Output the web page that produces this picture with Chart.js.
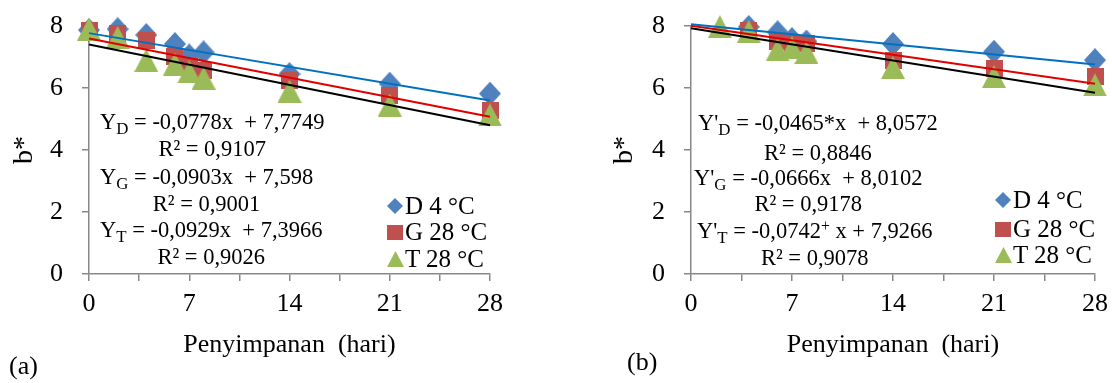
<!DOCTYPE html>
<html>
<head>
<meta charset="utf-8">
<script src="https://cdn.jsdelivr.net/npm/chart.js@4.4.0/dist/chart.umd.min.js"></script>
<style>
  body { margin: 0; background: #fff; }
  #wrap { position: relative; width: 1112px; height: 383px; overflow: hidden; font-family: 'Liberation Serif', serif; color: #000; }
  canvas.chart { position: absolute; top: 0; }
  .eq { position: absolute; font-size: 22.5px; text-align: center; white-space: pre; }
  .eq sub { font-size: 0.75em; vertical-align: -0.3em; line-height: 0; }
  .eq sup { font-size: 0.7em; vertical-align: 0.45em; line-height: 0; }
  .leg { position: absolute; font-size: 25px; line-height: 25px; white-space: pre; }
  .legmark { position: absolute; }
  .tag { position: absolute; font-size: 26px; line-height: 26px; }
</style>
</head>
<body>
<div id="wrap">
  <canvas id="chartA" class="chart" width="556" height="383" style="left:0"></canvas>
  <canvas id="chartB" class="chart" width="556" height="383" style="left:556px"></canvas>
</div>
<script>
const seriesNames = ['D 4 °C', 'G 28 °C', 'T 28 °C'];
const markerColors = ['#4f81bd', '#c0504d', '#9bbb59'];
const trendColors = ['#0070c0', '#e00000', '#000000'];

// (a)
const daysA = [0, 2, 4, 6, 7, 8, 14, 21, 28];
const dA = [7.87, 7.9, 7.71, 7.42, 7.05, 7.15, 6.45, 6.14, 5.82];
const gA = [7.87, 7.77, 7.52, 7.03, 6.7, 6.55, 6.23, 5.75, 5.28];
const tA = [7.9, 7.63, 6.89, 6.77, 6.52, 6.32, 5.9, 5.45, 5.13];

// (b)
const daysB = [2, 4, 6, 7, 8, 14, 21, 28];
const dB = [null, 7.97, 7.8, 7.58, 7.5, 7.42, 7.17, 6.9];
const gB = [null, 7.85, 7.5, 7.45, 7.42, 6.9, 6.63, 6.37];
const tB = [7.98, 7.82, 7.23, 7.3, 7.15, 6.66, 6.37, 6.1];

// trend lines, value at day 0 and day 28
const trendDays = [0, 28];
const dTrendA = [7.77, 5.60];
const gTrendA = [7.60, 5.07];
const tTrendA = [7.40, 4.80];
const dTrendB = [8.06, 6.76];
const gTrendB = [8.01, 6.14];
const tTrendB = [7.93, 5.85];

// equation texts
const eqA = ['Y<sub>D</sub> = -0,0778x  + 7,7749', 'Y<sub>G</sub> = -0,0903x  + 7,598', 'Y<sub>T</sub> = -0,0929x  + 7,3966'];
const r2A = ['0,9107', '0,9001', '0,9026'];
const eqB = ["Y'<sub>D</sub> = -0,0465*x  + 8,0572", "Y'<sub>G</sub> = -0,0666x  + 8,0102", "Y'<sub>T</sub> = -0,0742<sup>+</sup> x + 7,9266"];
const r2B = ['0,8846', '0,9178', '0,9078'];

const xTicksLabelStep = 7;
const FONT = 'Liberation Serif';

function markerCanvas(shape, color, w, h) {
  const c = document.createElement('canvas');
  c.width = w; c.height = h;
  const g = c.getContext('2d');
  g.fillStyle = color;
  g.beginPath();
  if (shape === 'diamond') {
    g.moveTo(w / 2, 0); g.lineTo(w, h / 2); g.lineTo(w / 2, h); g.lineTo(0, h / 2);
  } else if (shape === 'triangle') {
    g.moveTo(w / 2, 0); g.lineTo(w, h); g.lineTo(0, h);
  } else {
    g.rect(0, 0, w, h);
  }
  g.closePath();
  g.fill();
  return c;
}

const shapes = ['diamond', 'square', 'triangle'];
const bigSize = [[22, 24], [17, 17], [24, 23]];
const smallSize = [[16, 16], [16, 15], [17, 16]];

function makeChart(id, days, series, trends, yWidth, yTitlePad, padRight) {
  const datasets = [];
  trends.forEach((tr, i) => {
    datasets.push({
      data: trendDays.map((x, j) => ({ x: x, y: tr[j] })),
      borderColor: trendColors[i],
      borderWidth: 2,
      pointRadius: 0,
      showLine: true,
      order: 0,
      clip: false
    });
  });
  series.forEach((s, i) => {
    datasets.push({
      label: seriesNames[i],
      data: days.map((x, j) => ({ x: x, y: s[j] })),
      showLine: false,
      pointStyle: markerCanvas(shapes[i], markerColors[i], bigSize[i][0], bigSize[i][1]),
      pointRadius: 10,
      order: 3 - i,
      clip: false
    });
  });

  return new Chart(document.getElementById(id), {
    type: 'line',
    data: { datasets: datasets },
    options: {
      responsive: false,
      devicePixelRatio: 1,
      animation: false,
      layout: { padding: { left: 0, right: padRight, top: 26, bottom: 0 } },
      plugins: { legend: { display: false }, tooltip: { enabled: false } },
      scales: {
        x: {
          type: 'linear',
          min: 0,
          max: 28,
          afterFit: (s) => { s.height = 109; s.paddingLeft = 0; s.paddingRight = 0; },
          border: { color: '#888', width: 1.5 },
          grid: { drawOnChartArea: false, tickLength: 7, color: '#888', lineWidth: 1.5 },
          ticks: {
            stepSize: 3.5,
            autoSkip: false,
            maxRotation: 0,
            padding: 8,
            color: '#000',
            font: { family: FONT, size: 26 },
            callback: (v) => (v % xTicksLabelStep === 0 ? v : '')
          },
          title: {
            display: true,
            text: 'Penyimpanan  (hari)',
            color: '#000',
            font: { family: FONT, size: 26 },
            padding: { top: 0, bottom: 22 }
          }
        },
        y: {
          min: 0,
          max: 8,
          afterFit: (s) => { s.width = yWidth; s.paddingTop = 0; s.paddingBottom = 0; },
          border: { color: '#888', width: 1.5 },
          grid: { drawOnChartArea: false, tickLength: 7, color: '#888', lineWidth: 1.5 },
          ticks: {
            stepSize: 1,
            padding: 19,
            color: '#000',
            font: { family: FONT, size: 26 },
            callback: (v) => (v % 2 === 0 ? v : '')
          },
          title: {
            display: true,
            text: 'b*',
            color: '#000',
            font: { family: FONT, size: 28 },
            padding: { top: yTitlePad, bottom: 0 }
          }
        }
      }
    }
  });
}

makeChart('chartA', daysA, [dA, gA, tA], [dTrendA, gTrendA, tTrendA], 89, 8, 66);
makeChart('chartB', daysB, [dB, gB, tB], [dTrendB, gTrendB, tTrendB], 135, 52, 17);

// equations, legends and panel tags
const wrap = document.getElementById('wrap');
function addDiv(cls, html, left, top, extra) {
  const d = document.createElement('div');
  d.className = cls;
  d.innerHTML = html;
  d.style.left = left + 'px';
  d.style.top = top + 'px';
  if (extra) Object.assign(d.style, extra);
  wrap.appendChild(d);
  return d;
}

const eqPosA = [[100, 108, 27], [100, 163, 27], [100, 216, 27]];
const eqPosB = [[698, 108, 30], [694, 165, 26], [697, 217, 27]];
eqA.forEach((t, i) => addDiv('eq', t + '\nR² = ' + r2A[i], eqPosA[i][0], eqPosA[i][1], { lineHeight: eqPosA[i][2] + 'px' }));
eqB.forEach((t, i) => addDiv('eq', t + '\nR² = ' + r2B[i], eqPosB[i][0], eqPosB[i][1], { lineHeight: eqPosB[i][2] + 'px' }));

function addLegend(markX, textX, centers, baselines) {
  seriesNames.forEach((name, i) => {
    const m = markerCanvas(shapes[i], markerColors[i], smallSize[i][0], smallSize[i][1]);
    m.className = 'legmark';
    m.style.left = (markX - smallSize[i][0] / 2) + 'px';
    m.style.top = (centers[i] - smallSize[i][1] / 2) + 'px';
    wrap.appendChild(m);
    addDiv('leg', name, textX, baselines[i] - 21);
  });
}
addLegend(395, 405, [206, 232, 259], [214, 240, 267]);
addLegend(1003, 1013, [200, 229, 255], [208, 237, 263]);

addDiv('tag', '(a)', 9, 353);
addDiv('tag', '(b)', 627, 349);
</script>
</body>
</html>
